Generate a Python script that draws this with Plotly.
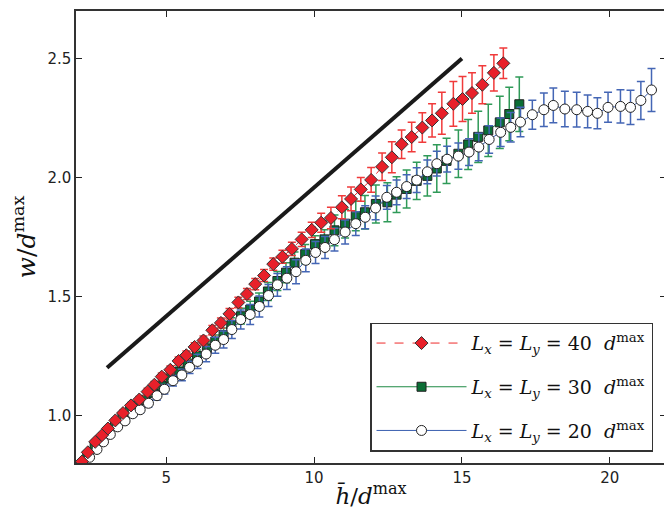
import plotly.graph_objects as go

# L = 40 d^max (red diamonds)
h40 = [2.15, 2.35, 2.60, 2.83, 3.03, 3.28, 3.54, 3.81, 4.09, 4.37, 4.60, 4.85,
       5.14, 5.42, 5.68, 5.96, 6.26, 6.56, 6.85, 7.14, 7.44, 7.73, 8.01, 8.31,
       8.62, 8.93, 9.25, 9.58, 9.92, 10.24, 10.57, 10.94, 11.25, 11.58, 11.93,
       12.30, 12.63, 12.96, 13.30, 13.66, 13.99, 14.32, 14.71, 15.02, 15.34,
       15.69, 16.08, 16.40]
w40 = [0.806, 0.845, 0.889, 0.917, 0.945, 0.979, 1.010, 1.042, 1.067, 1.100,
       1.129, 1.163, 1.192, 1.229, 1.253, 1.288, 1.315, 1.358, 1.389, 1.427,
       1.475, 1.510, 1.552, 1.588, 1.636, 1.667, 1.700, 1.740, 1.780, 1.810,
       1.830, 1.875, 1.910, 1.950, 1.990, 2.045, 2.085, 2.140, 2.170, 2.210,
       2.240, 2.270, 2.310, 2.330, 2.355, 2.390, 2.440, 2.480]
e40 = [0.008, 0.008, 0.009, 0.010, 0.010, 0.011, 0.012, 0.012, 0.013, 0.014,
       0.014, 0.015, 0.016, 0.017, 0.018, 0.018, 0.019, 0.020, 0.021, 0.022,
       0.022, 0.023, 0.024, 0.025, 0.026, 0.027, 0.028, 0.030, 0.032, 0.040,
       0.045, 0.048, 0.050, 0.050, 0.052, 0.058, 0.065, 0.060, 0.062, 0.062,
       0.070, 0.088, 0.094, 0.095, 0.085, 0.080, 0.076, 0.064]

# L = 30 d^max (green squares)
h30 = [2.33, 2.58, 2.80, 3.03, 3.27, 3.52, 3.78, 4.04, 4.31, 4.59, 4.86, 5.14,
       5.44, 5.72, 6.04, 6.375, 6.66, 6.94, 7.20, 7.53, 7.84, 8.14, 8.44, 8.76,
       9.05, 9.34, 9.70, 10.03, 10.35, 10.69, 11.05, 11.41, 11.72, 12.09,
       12.48, 12.79, 13.13, 13.47, 13.83, 14.15, 14.48, 14.88, 15.21, 15.55,
       15.89, 16.28, 16.60, 16.94]
w30 = [0.830, 0.866, 0.898, 0.930, 0.960, 0.990, 1.018, 1.040, 1.066, 1.095,
       1.123, 1.156, 1.183, 1.215, 1.250, 1.282, 1.310, 1.338, 1.379, 1.417,
       1.445, 1.479, 1.521, 1.565, 1.600, 1.642, 1.678, 1.720, 1.740, 1.778,
       1.806, 1.838, 1.854, 1.889, 1.896, 1.928, 1.952, 1.986, 2.007, 2.038,
       2.070, 2.100, 2.139, 2.171, 2.198, 2.232, 2.267, 2.308]
e30 = [0.006, 0.007, 0.008, 0.009, 0.010, 0.011, 0.012, 0.013, 0.015, 0.016,
       0.018, 0.019, 0.021, 0.023, 0.025, 0.027, 0.028, 0.030, 0.032, 0.033,
       0.035, 0.036, 0.038, 0.040, 0.042, 0.045, 0.040, 0.035, 0.040, 0.065,
       0.060, 0.062, 0.070, 0.080, 0.082, 0.075, 0.080, 0.078, 0.085, 0.100,
       0.095, 0.100, 0.105, 0.108, 0.110, 0.110, 0.112, 0.115]

# L = 20 d^max (open circles)
h20 = [2.41, 2.66, 2.88, 3.11, 3.36, 3.61, 3.87, 4.12, 4.40, 4.69, 4.94, 5.23,
       5.53, 5.79, 6.06, 6.35, 6.66, 6.94, 7.22, 7.52, 7.84, 8.15, 8.46, 8.76,
       9.08, 9.39, 9.72, 10.05, 10.37, 10.69, 11.05, 11.41, 11.73, 12.08,
       12.46, 12.79, 13.13, 13.47, 13.83, 14.15, 14.50, 14.88, 15.24, 15.57,
       15.92, 16.31, 16.65, 16.98, 17.38, 17.77, 18.09, 18.48, 18.88, 19.25,
       19.58, 19.94, 20.36, 20.70, 21.05, 21.41]
w20 = [0.824, 0.857, 0.889, 0.920, 0.952, 0.977, 1.007, 1.024, 1.051, 1.083,
       1.110, 1.146, 1.170, 1.202, 1.227, 1.258, 1.295, 1.319, 1.361, 1.403,
       1.424, 1.458, 1.504, 1.549, 1.577, 1.604, 1.652, 1.685, 1.706, 1.739,
       1.771, 1.806, 1.833, 1.872, 1.917, 1.938, 1.962, 1.989, 2.024, 2.058,
       2.077, 2.090, 2.107, 2.128, 2.160, 2.190, 2.211, 2.233, 2.264, 2.285,
       2.303, 2.288, 2.285, 2.278, 2.270, 2.295, 2.299, 2.295, 2.324, 2.368]
e20 = [0.008, 0.008, 0.009, 0.010, 0.010, 0.012, 0.013, 0.015, 0.016, 0.018,
       0.020, 0.022, 0.024, 0.026, 0.030, 0.032, 0.034, 0.036, 0.038, 0.040,
       0.042, 0.044, 0.046, 0.048, 0.048, 0.050, 0.048, 0.046, 0.046, 0.048,
       0.050, 0.050, 0.048, 0.050, 0.050, 0.052, 0.050, 0.052, 0.050, 0.052,
       0.054, 0.055, 0.056, 0.058, 0.058, 0.060, 0.062, 0.062, 0.061, 0.070,
       0.073, 0.075, 0.073, 0.069, 0.065, 0.063, 0.070, 0.072, 0.080, 0.090]

# reference slope line
ref_h = [3, 15]
ref_w = [1.2, 2.5]

serif = "DejaVu Serif"
name40 = "<i>L</i><sub><i>x</i></sub> = <i>L</i><sub><i>y</i></sub> = 40  <i>d</i><sup>max</sup>"
name30 = "<i>L</i><sub><i>x</i></sub> = <i>L</i><sub><i>y</i></sub> = 30  <i>d</i><sup>max</sup>"
name20 = "<i>L</i><sub><i>x</i></sub> = <i>L</i><sub><i>y</i></sub> = 20  <i>d</i><sup>max</sup>"

fig = go.Figure()

fig.add_trace(go.Scatter(x=ref_h, y=ref_w, mode='lines', showlegend=False,
                         line=dict(color='#1a1a1a', width=4)))

fig.add_trace(go.Scatter(x=h30, y=w30, mode='lines+markers', name=name30, legendrank=2,
                         legendgroup='b',
                         line=dict(color='#1f8a45', width=1),
                         marker=dict(symbol='square', size=9, color='#0b6e35',
                                     line=dict(color='#222', width=1)),
                         error_y=dict(type='data', array=e30, color='#2f9a58',
                                      thickness=1.5, width=4)))
fig.add_trace(go.Scatter(x=h20, y=w20, mode='lines+markers', name=name20, legendrank=3,
                         legendgroup='c',
                         line=dict(color='#3a5fb0', width=1),
                         marker=dict(symbol='circle', size=10, color='white',
                                     line=dict(color='#222', width=1)),
                         error_y=dict(type='data', array=e20, color='#4466b5',
                                      thickness=1.5, width=4)))
fig.add_trace(go.Scatter(x=h40, y=w40, mode='lines+markers', name=name40, legendrank=1,
                         legendgroup='a',
                         line=dict(color='#ee2a2a', width=1, dash='dash'),
                         marker=dict(symbol='diamond', size=10, color='#e8202a',
                                     line=dict(color='#333', width=1)),
                         error_y=dict(type='data', array=e40, color='#f03a3a',
                                      thickness=1.5, width=4)))

axis_common = dict(showgrid=False, zeroline=False, ticks='inside', ticklen=6,
                   tickwidth=1, tickcolor='#222', mirror='ticks', showline=True,
                   linecolor='#333', linewidth=1.5,
                   tickfont=dict(family='DejaVu Sans', size=15, color='#222'))

fig.update_xaxes(range=[1.95, 21.9], tickvals=[5, 10, 15, 20],
                 title=dict(text="<i>h\u0304</i>/<i>d</i><sup>max</sup>",
                            font=dict(family=serif, size=23, color='#111'),
                            standoff=2),
                 **axis_common)
fig.update_yaxes(range=[0.8, 2.7], tickvals=[1.0, 1.5, 2.0, 2.5], tickformat='.1f',
                 title=dict(text="<i>w</i>/<i>d</i><sup>max</sup>",
                            font=dict(family=serif, size=25, color='#111'),
                            standoff=8),
                 **axis_common)

# page body adds an 8px margin, so the figure is sized to fit inside it
fig.update_layout(
    width=664, height=507,
    margin=dict(l=68, r=6, t=1, b=52),
    plot_bgcolor='white', paper_bgcolor='white',
    legend=dict(x=0.978, y=0.025, xanchor='right', yanchor='bottom',
                bgcolor='white', bordercolor='#333', borderwidth=1.5,
                font=dict(family=serif, size=19, color='#111'),
                traceorder='grouped', tracegroupgap=16, itemwidth=90),
)

fig.write_html("out.html")
